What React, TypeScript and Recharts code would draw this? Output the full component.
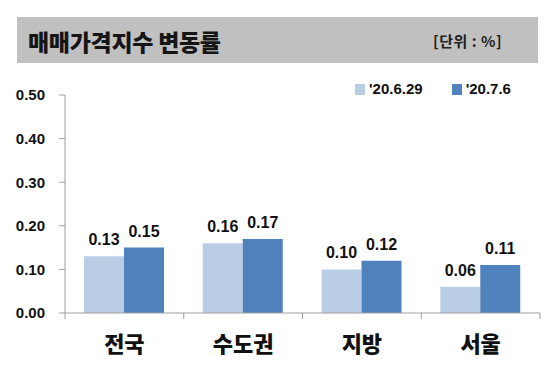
import React from 'react';
import { BarChart, Bar, XAxis, YAxis, LabelList } from 'recharts';

const categories = ['전국', '수도권', '지방', '서울'];
const seriesNames = ["'20.6.29", "'20.7.6"];
const prevWeek = [0.13, 0.16, 0.10, 0.06];
const thisWeek = [0.15, 0.17, 0.12, 0.11];
const yTicks = [0, 0.1, 0.2, 0.3, 0.4, 0.5];
const titleText = '매매가격지수 변동률';
const unitText = '[단위 : %]';

const colors = ['#b9cde5', '#4f81bd'];

const data = categories.map((c, i) => ({ name: c, a: prevWeek[i], b: thisWeek[i] }));

const NUM_FONT = '"Liberation Sans", Arial, sans-serif';
const KR_FONT = '"Noto Sans CJK KR", "Noto Sans", sans-serif';

const PLOT_LEFT = 65;
const PLOT_RIGHT = 540;
const HALF_BAND = (PLOT_RIGHT - PLOT_LEFT) / categories.length / 2;

const XTick = (props: any) => {
  const { x, y, payload, index } = props;
  const half = payload && payload.offset > 0 ? payload.offset : HALF_BAND;
  return (
    <g>
      {index === 0 && (
        <line x1={x - half} x2={x - half} y1={y} y2={y + 6} stroke="#a0a0a0" strokeWidth={1} />
      )}
      <line x1={x + half} x2={x + half} y1={y} y2={y + 6} stroke="#a0a0a0" strokeWidth={1} />
      <text
        x={x}
        y={y + 39}
        textAnchor="middle"
        fontFamily={KR_FONT}
        fontWeight={900}
        fontSize={22}
        fill="#111"
      >
        {payload.value}
      </text>
    </g>
  );
};

const LegendBox = () => (
  <div
    style={{
      position: 'absolute',
      left: 355,
      top: 80,
      display: 'flex',
      alignItems: 'center',
      fontFamily: NUM_FONT,
      fontWeight: 700,
      fontSize: 15,
      lineHeight: '18px',
      color: '#111',
      whiteSpace: 'nowrap',
    }}
  >
    {seriesNames.map((n, i) => (
      <div key={n} style={{ display: 'flex', alignItems: 'center', marginRight: i === 0 ? 29 : 0 }}>
        <span style={{ display: 'inline-block', width: 10, height: 11, background: colors[i], marginRight: 4 }} />
        <span>{n}</span>
      </div>
    ))}
  </div>
);

export default function App() {
  return (
    <div style={{ position: 'absolute', left: 0, top: 0, width: 555, height: 373, background: '#fff', overflow: 'hidden' }}>
      <div
        style={{
          position: 'absolute',
          left: 17,
          top: 17,
          width: 521,
          height: 46,
          background: '#c0c0c0',
        }}
      />
      <div
        style={{
          position: 'absolute',
          left: 28,
          top: 24,
          fontFamily: KR_FONT,
          fontWeight: 900,
          fontSize: 23,
          lineHeight: '34px',
          color: '#151515',
          whiteSpace: 'nowrap',
          letterSpacing: -0.3,
        }}
      >
        {titleText}
      </div>
      <div
        style={{
          position: 'absolute',
          left: 433,
          top: 29,
          fontFamily: KR_FONT,
          fontWeight: 700,
          fontSize: 15,
          lineHeight: '24px',
          color: '#222',
          whiteSpace: 'nowrap',
          letterSpacing: 0.5,
        }}
      >
        {unitText}
      </div>
      <LegendBox />
      <div style={{ position: 'absolute', left: 0, top: 0 }}>
        <BarChart
          width={555}
          height={373}
          data={data}
          margin={{ top: 95, right: 555 - PLOT_RIGHT, bottom: 0, left: 15 }}
          barCategoryGap="16%"
          barGap={0}
        >
          <XAxis
            dataKey="name"
            height={60}
            axisLine={{ stroke: '#a0a0a0' }}
            tickLine={false}
            tickSize={0}
            tickMargin={0}
            tick={<XTick />}
            interval={0}
          />
          <YAxis
            width={50}
            domain={[0, 0.5]}
            ticks={yTicks}
            interval={0}
            axisLine={{ stroke: '#a0a0a0' }}
            tickLine={{ stroke: '#a0a0a0' }}
            tickSize={6}
            tickMargin={14}
            tickFormatter={(v: number) => v.toFixed(2)}
            tick={{ fontFamily: NUM_FONT, fontWeight: 700, fontSize: 15, fill: '#111' }}
          />
          <Bar dataKey="a" name={seriesNames[0]} fill={colors[0]} isAnimationActive={false}>
            <LabelList
              dataKey="a"
              position="top"
              offset={11}
              formatter={(v: any) => Number(v).toFixed(2)}
              style={{ fontFamily: NUM_FONT, fontWeight: 700, fontSize: 16, fill: '#111' }}
            />
          </Bar>
          <Bar dataKey="b" name={seriesNames[1]} fill={colors[1]} isAnimationActive={false}>
            <LabelList
              dataKey="b"
              position="top"
              offset={11}
              formatter={(v: any) => Number(v).toFixed(2)}
              style={{ fontFamily: NUM_FONT, fontWeight: 700, fontSize: 16, fill: '#111' }}
            />
          </Bar>
        </BarChart>
      </div>
    </div>
  );
}
